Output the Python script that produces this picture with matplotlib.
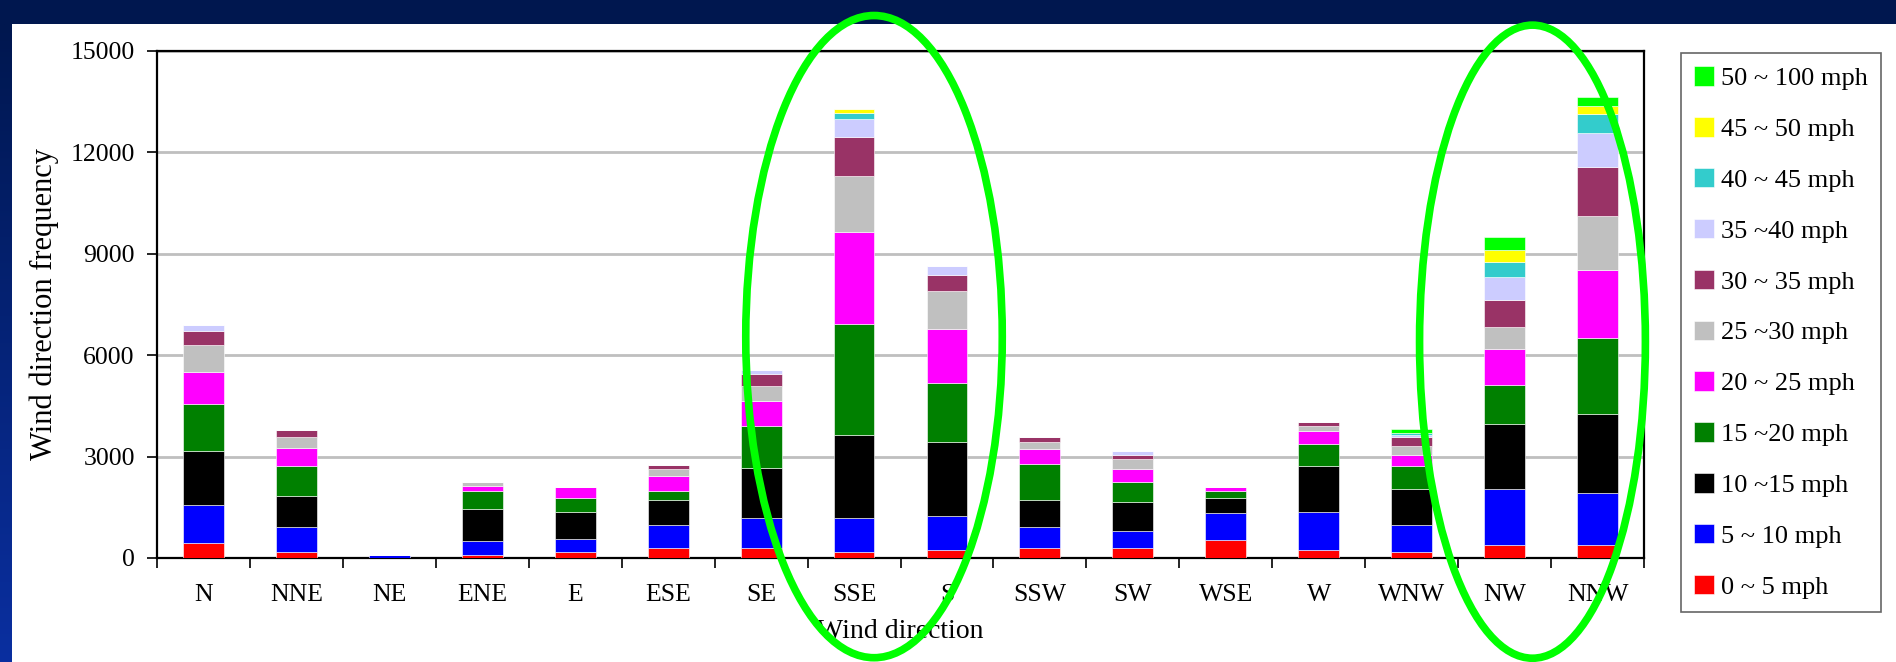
import matplotlib
matplotlib.use("Agg")
import matplotlib.pyplot as plt
import numpy as np
from matplotlib.patches import Ellipse, Rectangle

plt.rcParams["font.family"] = ["Liberation Serif", "DejaVu Serif"]

directions = ["N", "NNE", "NE", "ENE", "E", "ESE", "SE", "SSE", "S",
              "SSW", "SW", "WSE", "W", "WNW", "NW", "NNW"]

# frequency per speed band, one value per direction
mph_0_5 = [440, 190, 0, 100, 175, 310, 310, 175, 235, 310, 310, 520, 235, 175, 375, 375]
mph_5_10 = [1140, 720, 100, 410, 400, 660, 870, 1010, 995, 600, 475, 800, 1135, 795, 1665, 1545]
mph_10_15 = [1595, 935, 0, 935, 795, 735, 1470, 2465, 2215, 795, 860, 460, 1345, 1070, 1930, 2330]
mph_15_20 = [1395, 870, 0, 525, 410, 275, 1255, 3260, 1720, 1070, 610, 200, 670, 670, 1145, 2255]
mph_20_25 = [945, 535, 0, 150, 325, 460, 735, 2740, 1605, 460, 385, 110, 385, 325, 1060, 2005]
mph_25_30 = [800, 335, 0, 125, 0, 200, 460, 1655, 1135, 200, 275, 0, 135, 275, 660, 1595]
mph_30_35 = [400, 200, 0, 0, 0, 125, 350, 1145, 475, 135, 135, 0, 125, 260, 795, 1470]
mph_35_40 = [185, 0, 0, 0, 0, 0, 110, 525, 250, 0, 110, 0, 0, 70, 685, 1010]
mph_40_45 = [0, 0, 0, 0, 0, 0, 0, 185, 0, 0, 0, 0, 0, 50, 450, 545]
mph_45_50 = [0, 0, 0, 0, 0, 0, 0, 135, 0, 0, 0, 0, 0, 0, 335, 250]
mph_50_100 = [0, 0, 0, 0, 0, 0, 0, 0, 0, 0, 0, 0, 0, 120, 385, 260]

bands = [mph_0_5, mph_5_10, mph_10_15, mph_15_20, mph_20_25, mph_25_30,
         mph_30_35, mph_35_40, mph_40_45, mph_45_50, mph_50_100]
band_labels = ["0 ~ 5 mph", "5 ~ 10 mph", "10 ~15 mph", "15 ~20 mph", "20 ~ 25 mph",
               "25 ~30 mph", "30 ~ 35 mph", "35 ~40 mph", "40 ~ 45 mph",
               "45 ~ 50 mph", "50 ~ 100 mph"]
band_colors = ["#FF0000", "#0000FF", "#000000", "#008000", "#FF00FF", "#C0C0C0",
               "#993366", "#CCCCFF", "#33CCCC", "#FFFF00", "#00FF00"]

fig = plt.figure(figsize=(18.96, 6.62), dpi=100)
fig.patch.set_facecolor("white")

# slide frame: navy strip on top, blue gradient on the left
fig.add_artist(Rectangle((0, 1 - 24 / 662), 1, 24 / 662, transform=fig.transFigure,
                         facecolor="#00174F", edgecolor="none", zorder=0))
side = fig.add_axes([0, 0, 12 / 1896, 1 - 24 / 662])
grad = np.linspace(0, 1, 256).reshape(-1, 1)
cmap = matplotlib.colors.LinearSegmentedColormap.from_list("side", ["#00174F", "#0A2FA0"])
side.imshow(grad, aspect="auto", cmap=cmap, extent=[0, 1, 0, 1], origin="upper")
side.set_axis_off()

ax = fig.add_axes([157 / 1896, 1 - 558 / 662, 1487 / 1896, 507 / 662])
x = np.arange(len(directions))
bottom = np.zeros(len(directions))
handles = []
for vals, lab, col in zip(bands, band_labels, band_colors):
    h = ax.bar(x, vals, 0.44, bottom=bottom, color=col, label=lab,
               edgecolor="white", linewidth=0.4, zorder=3)
    handles.append(h)
    bottom += np.array(vals)

ax.set_xlim(-0.5, len(directions) - 0.5)
ax.set_ylim(0, 15000)
ax.set_yticks(np.arange(0, 15001, 3000))
ax.yaxis.grid(True, color="#BFBFBF", linewidth=2, zorder=0)
ax.set_axisbelow(True)
for s in ax.spines.values():
    s.set_color("black")
    s.set_linewidth(1.6)

ax.set_xticks(x)
ax.set_xticklabels(directions)
ax.set_xticks(np.arange(len(directions) + 1) - 0.5, minor=True)
ax.tick_params(axis="x", which="major", length=0, pad=19, labelsize=18.5)
ax.tick_params(axis="x", which="minor", length=7, width=1.2, direction="out")
ax.tick_params(axis="y", length=7, width=1.2, pad=9, labelsize=18.5)

ax.set_xlabel("Wind direction", fontsize=20, labelpad=9)
ax.set_ylabel("Wind direction frequency", fontsize=22, labelpad=8)

leg = fig.legend(handles[::-1], band_labels[::-1], loc="upper left",
                 bbox_to_anchor=(1681 / 1896, 1 - 53 / 662), fontsize=19,
                 frameon=True, fancybox=False, edgecolor="#404040",
                 handlelength=0.76, handleheight=0.76, handletextpad=0.25,
                 labelspacing=1.02, borderpad=0.5, borderaxespad=0)
leg.get_frame().set_linewidth(1.2)

# highlight the two dominant direction groups
for cx, cy, w, h in [(7.215, 6550, 2.76, 19000), (14.30, 6400, 2.43, 18730)]:
    ax.add_patch(Ellipse((cx, cy), w, h, fill=False, edgecolor="#00FF00",
                         linewidth=5.5, clip_on=False, zorder=10))

fig.savefig("out.png", dpi=100)
